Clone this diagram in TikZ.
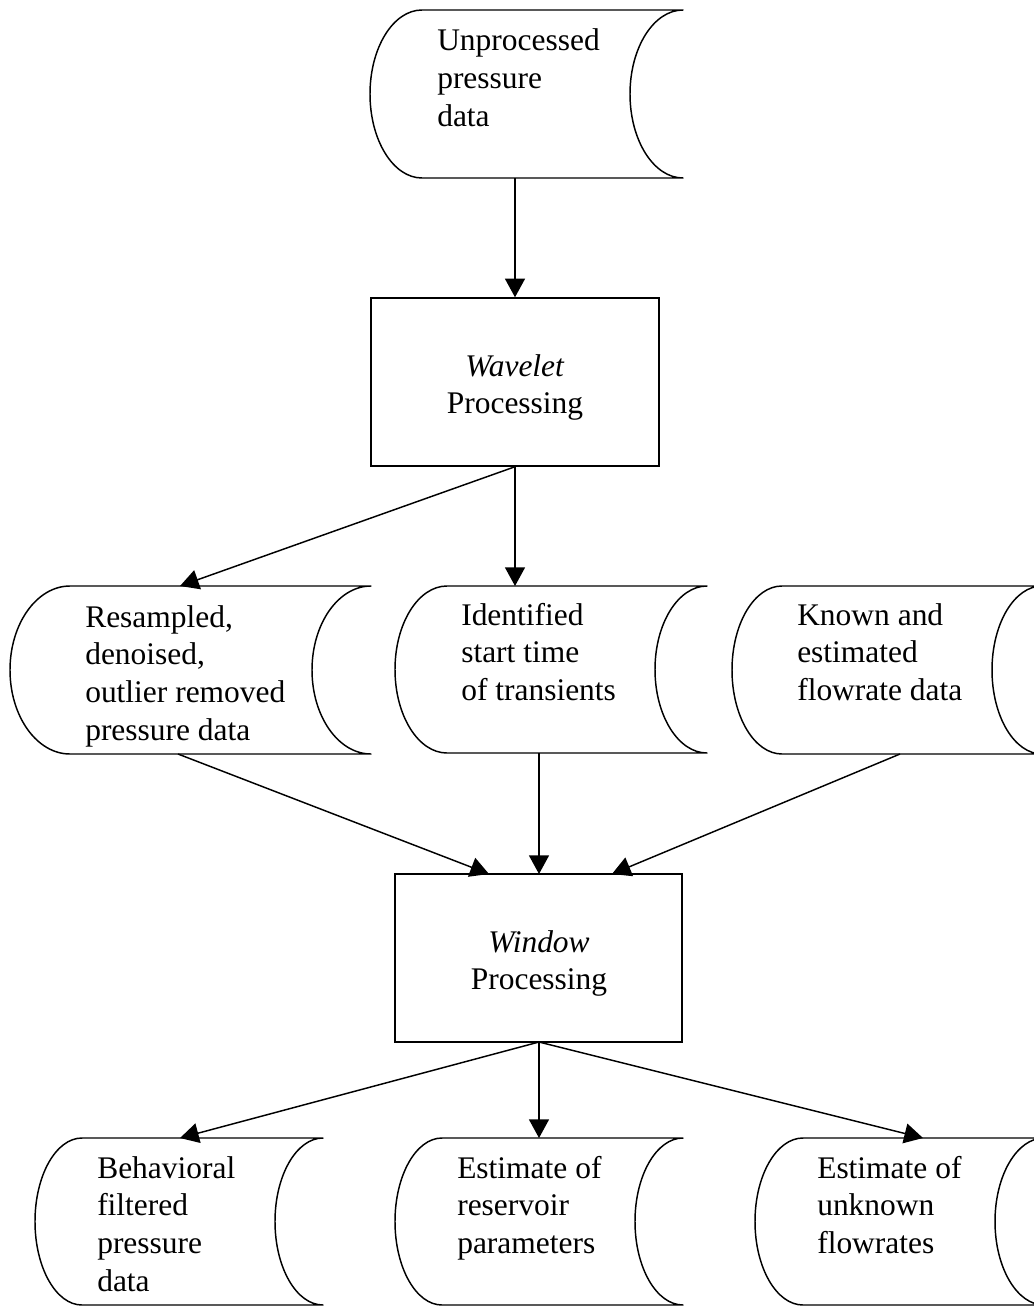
\documentclass[tikz,border=0pt]{standalone}
\usepackage{fontspec}
\setmainfont{Liberation Serif}
\usetikzlibrary{arrows.meta}
\newcommand{\dshape}[6]{% tlx trx top bot xl xr
  \draw[shapeline] (#1,-#3) -- (#2,-#3)
    arc[start angle=90,end angle=270,x radius={(#2-#6)*0.75pt},y radius={(#4-#3)*0.375pt}]
    -- (#1,-#4)
    arc[start angle=270,end angle=90,x radius={(#1-#5)*0.75pt},y radius={(#4-#3)*0.375pt}]
    -- cycle;}
\newcommand{\lines}[1]{\begin{tabular}[t]{@{}l@{}}#1\end{tabular}}
\newcommand{\clines}[1]{\begin{tabular}[t]{@{}c@{}}#1\end{tabular}}
\begin{document}
\begin{tikzpicture}[x=0.75pt,y=0.75pt,
  shapeline/.style={line width=1.1pt,line join=round},
  arr/.style={line width=1.1pt,-{Triangle[length=14pt,width=15pt]}},
  txt/.style={inner sep=0pt,anchor=base west,font=\fontsize{23.6}{28.3}\selectfont},
  ctxt/.style={inner sep=0pt,anchor=base,font=\fontsize{23.6}{28.3}\selectfont},
  proc/.style={draw,line width=1.1pt,rectangle,inner sep=0pt,minimum height=126pt}]
\useasboundingbox (0,0) rectangle (1034,-1306);
\clip (0,0) rectangle (1034,-1306);
\fill[white] (0,0) rectangle (1034,-1306);

% data shapes
\dshape{422}{683}{10}{178}{370}{630}
\dshape{70}{371}{586}{754}{10}{312}
\dshape{447}{707}{586}{753}{395}{655}
\dshape{782}{1042}{586}{754}{732}{992}
\dshape{82}{323}{1138}{1305}{35}{275}
\dshape{442}{683}{1138}{1305}{395}{635}
\dshape{803}{1044}{1138}{1305}{755}{995}

% texts of data shapes
\node[txt] (unpT) at (437,-51) {\lines{Unprocessed\\pressure\\data}};
\node[txt] (resTx) at (85,-627) {\lines{Resampled,\\denoised,\\outlier removed\\pressure data}};
\node[txt] (ideTx) at (461,-625) {\lines{Identified\\start time\\of transients}};
\node[txt] (knoTx) at (797,-625) {\lines{Known and\\estimated\\flowrate data}};
\node[txt] (behTx) at (97,-1178) {\lines{Behavioral\\filtered\\pressure\\data}};
\node[txt] (rsvTx) at (457,-1178) {\lines{Estimate of\\reservoir\\parameters}};
\node[txt] (unkTx) at (817,-1178) {\lines{Estimate of\\unknown\\flowrates}};

% process boxes
\node[proc,minimum width=216pt] (wav) at (515,-382) {};
\node[ctxt] (wavT) at (515,-376) {\clines{\textit{Wavelet}\\Processing}};
\node[proc,minimum width=215.25pt] (win) at (538.5,-958) {};
\node[ctxt] (winT) at (539,-952) {\clines{\textit{Window}\\Processing}};

% attach points
\coordinate (unpB) at (515,-178);
\coordinate (resT) at (180,-586);
\coordinate (resB) at (178,-754);
\coordinate (ideT) at (515,-586);
\coordinate (ideB) at (539,-753);
\coordinate (knoB) at (900,-754);
\coordinate (winL) at (489,-874);
\coordinate (winM) at (539,-874);
\coordinate (winR) at (612,-874);
\coordinate (winS) at (539,-1042);
\coordinate (behT) at (180,-1138);
\coordinate (rsvT) at (539,-1138);
\coordinate (unkT) at (923,-1138);

% connectors
\draw[arr] (unpB) -- (wav.north);
\draw[arr] (wav.south) -- (resT);
\draw[arr] (wav.south) -- (ideT);
\draw[arr] (resB) -- (winL);
\draw[arr] (ideB) -- (winM);
\draw[arr] (knoB) -- (winR);
\draw[arr] (winS) -- (behT);
\draw[arr] (winS) -- (rsvT);
\draw[arr] (winS) -- (unkT);
\end{tikzpicture}
\end{document}
